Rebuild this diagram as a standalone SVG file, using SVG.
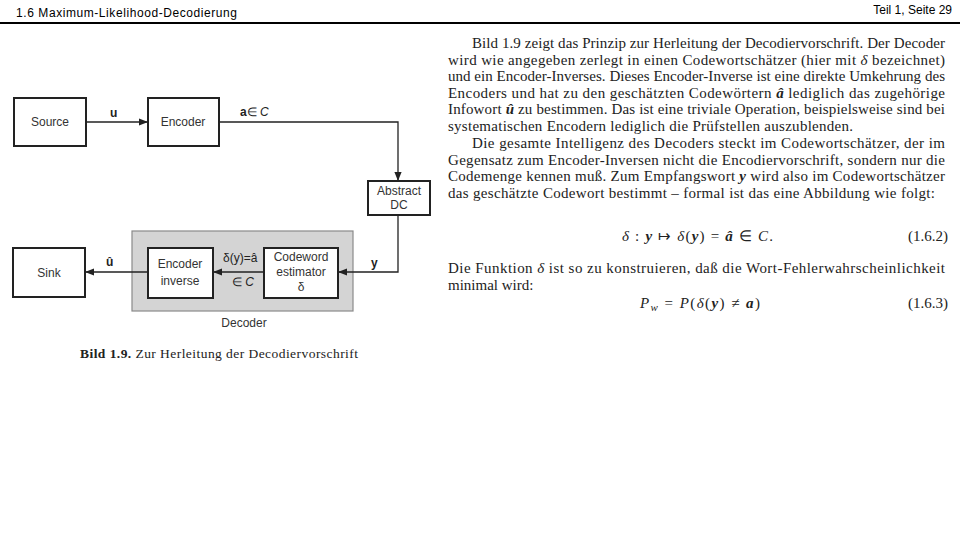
<svg xmlns="http://www.w3.org/2000/svg" width="960" height="540" viewBox="0 0 960 540">
<defs>
<marker id="arr" viewBox="0 0 10 10" refX="10" refY="5" markerWidth="9" markerHeight="9" markerUnits="userSpaceOnUse" orient="auto">
<path d="M0,1 L10,5 L0,9 z" fill="#222"/>
</marker>
</defs>
<style>
.hdr{font-family:"Liberation Sans",Arial,sans-serif;font-size:12px;fill:#000}
.box{fill:#fff;stroke:#222;stroke-width:2}
.lbl{font-family:"Liberation Sans",Arial,sans-serif;font-size:12px;fill:#333;text-anchor:middle}
.ml{font-family:"Liberation Sans",Arial,sans-serif;font-size:12px;fill:#222}
.wire{fill:none;stroke:#222;stroke-width:1.3}
.tx{font-family:"Liberation Serif","Times New Roman",serif;font-size:15px;fill:#222}
.cap{font-family:"Liberation Serif","Times New Roman",serif;font-size:13.5px;fill:#222}
.bi{font-weight:bold;font-style:italic}
.it{font-style:italic}
</style>
<rect width="960" height="540" fill="#fff"/>
<text class="hdr" x="16" y="17" textLength="221">1.6 Maximum-Likelihood-Decodierung</text>
<text class="hdr" x="952" y="14" text-anchor="end" font-size="11">Teil 1, Seite 29</text>
<line x1="0" y1="23" x2="960" y2="23" stroke="#000" stroke-width="2"/>

<g id="decoder-area">
<rect x="132" y="231" width="221" height="80" fill="#d4d4d4" stroke="#8a8a8a" stroke-width="1.2"/>
<text class="lbl" x="244" y="327">Decoder</text>
</g>

<g id="connectors">
<line class="wire" x1="86" y1="122" x2="148" y2="122" marker-end="url(#arr)"/>
<polyline class="wire" points="219,122 398,122 398,181" marker-end="url(#arr)"/>
<polyline class="wire" points="398,215 398,272 338,272" marker-end="url(#arr)"/>
<line class="wire" x1="264" y1="272" x2="213" y2="272" marker-end="url(#arr)"/>
<line class="wire" x1="148" y1="272" x2="85" y2="272" marker-end="url(#arr)"/>
<text class="ml" x="110" y="117" font-weight="bold">u</text>
<text class="ml" x="240" y="116"><tspan font-weight="bold">a</tspan>∈ <tspan font-style="italic">C</tspan></text>
<text class="ml" x="371" y="267" font-weight="bold">y</text>
<text class="ml" x="106" y="266" font-weight="bold">û</text>
<text class="ml" x="223" y="262">δ(y)=â</text>
<text class="ml" x="232" y="286">∈ <tspan font-style="italic">C</tspan></text>
</g>

<g id="source">
<rect class="box" x="14" y="98" width="72" height="48"/>
<text class="lbl" x="50" y="126">Source</text>
</g>
<g id="encoder">
<rect class="box" x="148" y="98" width="71" height="48"/>
<text class="lbl" x="183" y="126">Encoder</text>
</g>
<g id="abstract-dc">
<rect class="box" x="368" y="181" width="62" height="34"/>
<text class="lbl" x="399" y="195">Abstract</text>
<text class="lbl" x="399" y="209">DC</text>
</g>
<g id="codeword-estimator">
<rect class="box" x="264" y="248" width="74" height="50"/>
<text class="lbl" x="301" y="261">Codeword</text>
<text class="lbl" x="301" y="276">estimator</text>
<text class="lbl" x="301" y="291">δ</text>
</g>
<g id="encoder-inverse">
<rect class="box" x="148" y="248" width="65" height="50"/>
<text class="lbl" x="180" y="268">Encoder</text>
<text class="lbl" x="180" y="285">inverse</text>
</g>
<g id="sink">
<rect class="box" x="13" y="248" width="72" height="49"/>
<text class="lbl" x="49" y="277">Sink</text>
</g>

<text class="cap" x="80" y="358" textLength="278"><tspan font-weight="bold">Bild 1.9.</tspan> Zur Herleitung der Decodiervorschrift</text>

<g id="body-text">
<text class="tx" x="472" y="48" textLength="473">Bild 1.9 zeigt das Prinzip zur Herleitung der Decodiervorschrift. Der Decoder</text>
<text class="tx" x="448" y="64.5" textLength="497">wird wie angegeben zerlegt in einen Codewortschätzer (hier mit <tspan class="it">δ</tspan> bezeichnet)</text>
<text class="tx" x="448" y="81" textLength="497">und ein Encoder-Inverses. Dieses Encoder-Inverse ist eine direkte Umkehrung des</text>
<text class="tx" x="448" y="97.5" textLength="497">Encoders und hat zu den geschätzten Codewörtern <tspan class="bi">â</tspan> lediglich das zugehörige</text>
<text class="tx" x="448" y="114" textLength="497">Infowort <tspan class="bi">û</tspan> zu bestimmen. Das ist eine triviale Operation, beispielsweise sind bei</text>
<text class="tx" x="448" y="130.5" textLength="405">systematischen Encodern lediglich die Prüfstellen auszublenden.</text>
<text class="tx" x="472" y="148" textLength="473">Die gesamte Intelligenz des Decoders steckt im Codewortschätzer, der im</text>
<text class="tx" x="448" y="164.5" textLength="497">Gegensatz zum Encoder-Inversen nicht die Encodiervorschrift, sondern nur die</text>
<text class="tx" x="448" y="181" textLength="497">Codemenge kennen muß. Zum Empfangswort <tspan class="bi">y</tspan> wird also im Codewortschätzer</text>
<text class="tx" x="448" y="197.5" textLength="487">das geschätzte Codewort bestimmt – formal ist das eine Abbildung wie folgt:</text>
<text class="tx" x="622" y="241" textLength="151"><tspan class="it">δ</tspan> : <tspan class="bi">y</tspan> ↦ <tspan class="it">δ</tspan>(<tspan class="bi">y</tspan>) = <tspan class="bi">â</tspan> ∈ <tspan class="it">C</tspan>.</text>
<text class="tx" x="948" y="241" text-anchor="end">(1.6.2)</text>
<text class="tx" x="448" y="273" textLength="497">Die Funktion <tspan class="it">δ</tspan> ist so zu konstruieren, daß die Wort-Fehlerwahrscheinlichkeit</text>
<text class="tx" x="448" y="290">minimal wird:</text>
<text class="tx" x="640" y="308" textLength="120"><tspan class="it">P</tspan><tspan class="it" font-size="11" dy="3">w</tspan><tspan dy="-3"> = </tspan><tspan class="it">P</tspan>(<tspan class="it">δ</tspan>(<tspan class="bi">y</tspan>) ≠ <tspan class="bi">a</tspan>)</text>
<text class="tx" x="948" y="308" text-anchor="end">(1.6.3)</text>
</g>
</svg>
